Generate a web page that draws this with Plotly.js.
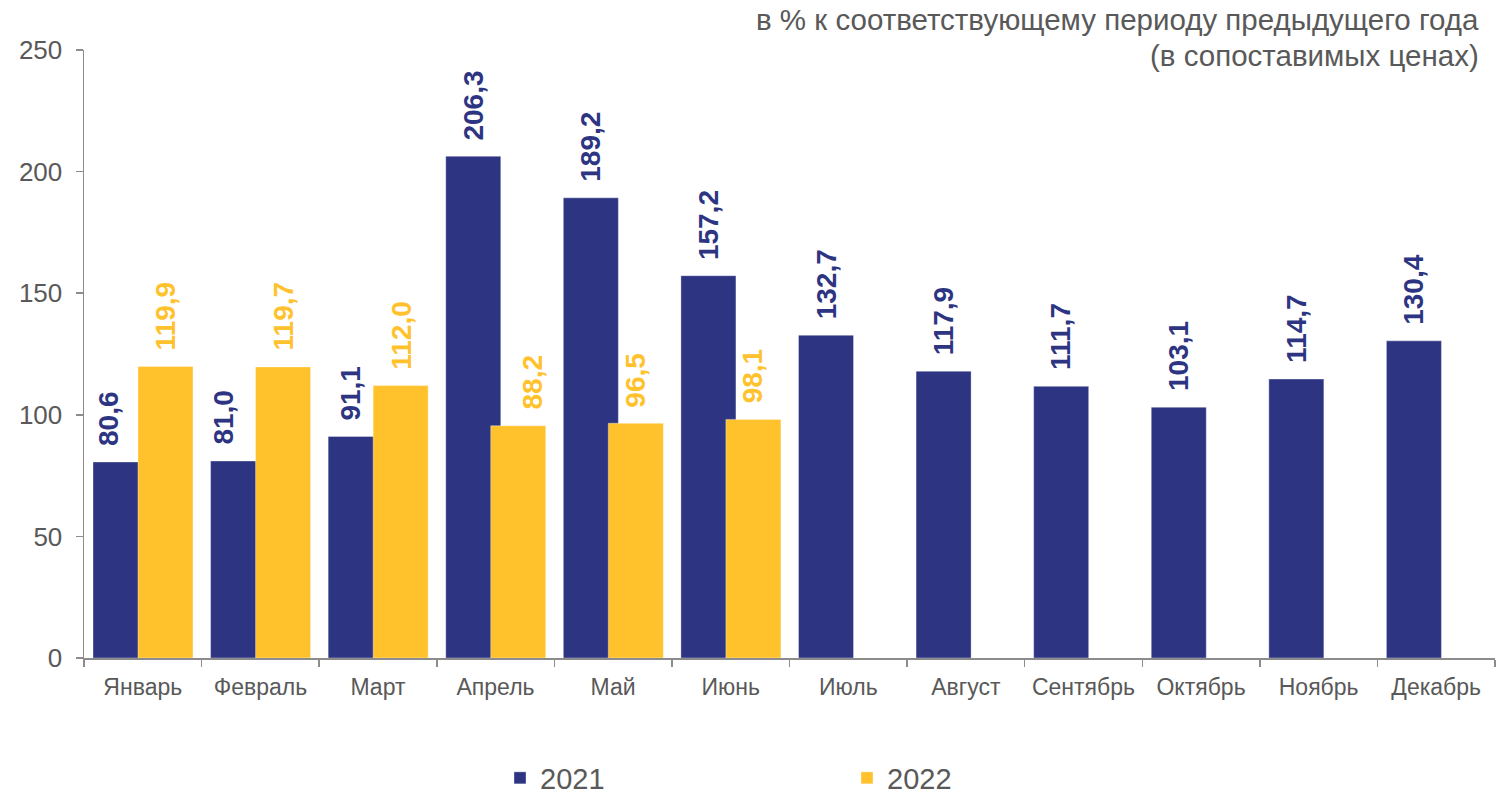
<!DOCTYPE html>
<html>
<head>
<meta charset="utf-8">
<script src="https://cdn.plot.ly/plotly-3.0.1.min.js"></script>
<style>
html,body{margin:0;padding:0;background:#fff;}
#chart{width:1511px;height:795px;}
</style>
</head>
<body>
<div id="chart"></div>
<script>
// ---- data ----
const months = ['Январь','Февраль','Март','Апрель','Май','Июнь','Июль','Август','Сентябрь','Октябрь','Ноябрь','Декабрь'];
const values2021 = [80.6, 81.0, 91.1, 206.3, 189.2, 157.2, 132.7, 117.9, 111.7, 103.1, 114.7, 130.4];
const values2022 = [119.9, 119.7, 112.0, 95.5, 96.5, 98.1];
const labels2021 = ['80,6','81,0','91,1','206,3','189,2','157,2','132,7','117,9','111,7','103,1','114,7','130,4'];
const labels2022 = ['119,9','119,7','112,0','88,2','96,5','98,1'];
const yTicks = [0, 50, 100, 150, 200, 250];
const seriesNames = ['2021', '2022'];
const titleLines = ['в % к соответствующему периоду предыдущего года', '(в сопоставимых ценах)'];

// ---- style ----
const NAVY = '#2D3582';
const YELLOW = '#FFC22D';
const GREY = '#595959';
const AXIS = '#8C8C8C';
const FONT = 'Liberation Sans, Arial, sans-serif';

const M = {l: 84, r: 16, t: 50, b: 137, autoexpand: false};
const plotW = 1511 - M.l - M.r;
const plotH = 795 - M.t - M.b;
const catW = plotW / months.length;

const barW = 0.468;
const off2021 = -0.4235;
const off2022 = -0.041;
// manual label nudges (px), as in the original
const nudge2021 = [-12, -15, -5, 0, 0, 0, 0, 0, 0, 0, 0, 0];
const nudge2022 = [0, 0, 0, 14, 0, 0];

const m2022 = months.slice(0, values2022.length);

const traces = [
  {
    type: 'bar', name: seriesNames[0], x: months, y: values2021,
    width: barW, offset: off2021,
    marker: {color: NAVY, line: {color: 'rgba(255,255,255,0.35)', width: 1}},
    hoverinfo: 'x+y'
  },
  {
    type: 'bar', name: seriesNames[1], x: m2022, y: values2022,
    width: barW, offset: off2022,
    marker: {color: YELLOW, line: {color: 'rgba(255,255,255,0.35)', width: 1}},
    hoverinfo: 'x+y'
  }
];

const c2021 = (off2021 + barW / 2) * catW;
const c2022 = (off2022 + barW / 2) * catW;

const annotations = [];
months.forEach((m, i) => {
  annotations.push({
    x: m, y: values2021[i], xref: 'x', yref: 'y',
    text: labels2021[i], showarrow: false, textangle: -90,
    xanchor: 'center', yanchor: 'bottom',
    xshift: c2021 + nudge2021[i], yshift: 14,
    font: {family: FONT, size: 28, color: NAVY, weight: 'bold'}
  });
});
m2022.forEach((m, i) => {
  annotations.push({
    x: m, y: values2022[i], xref: 'x', yref: 'y',
    text: labels2022[i], showarrow: false, textangle: -90,
    xanchor: 'center', yanchor: 'bottom',
    xshift: c2022 + nudge2022[i], yshift: 14,
    font: {family: FONT, size: 28, color: YELLOW, weight: 'bold'}
  });
});
// header text (top right)
titleLines.forEach((t, i) => {
  annotations.push({
    xref: 'paper', yref: 'paper',
    x: (1481 - M.l) / plotW, y: (M.t + plotH - (20 + 35 * i)) / plotH,
    xanchor: 'right', yanchor: 'middle', align: 'right',
    text: t, showarrow: false,
    font: {family: FONT, size: 29.5, color: GREY}
  });
});

const layout = {
  width: 1511, height: 795,
  margin: M,
  paper_bgcolor: '#fff', plot_bgcolor: '#fff',
  font: {family: FONT, color: GREY},
  barmode: 'overlay',
  showlegend: true,
  xaxis: {
    type: 'category',
    range: [-0.5, months.length - 0.5],
    showline: true, linecolor: AXIS, linewidth: 1.5,
    ticks: 'outside', tickson: 'boundaries', ticklen: 7, tickcolor: AXIS, tickwidth: 1.5,
    showgrid: false, zeroline: false,
    tickfont: {family: FONT, size: 23, color: GREY},
    ticklabelstandoff: 8,
    automargin: false,
    fixedrange: true
  },
  yaxis: {
    range: [0, 250],
    tickvals: yTicks, ticktext: yTicks.map(String),
    showline: true, linecolor: AXIS, linewidth: 1.5,
    ticks: 'outside', ticklen: 7, tickcolor: AXIS, tickwidth: 1.5,
    showgrid: false, zeroline: false,
    tickfont: {family: FONT, size: 26, color: GREY},
    ticklabelstandoff: 8,
    automargin: false,
    fixedrange: true
  },
  legend: {
    orientation: 'h',
    x: (500 - M.l) / plotW, xanchor: 'left',
    y: (M.t + plotH - 778) / plotH, yanchor: 'middle',
    entrywidth: 302,
    font: {family: FONT, size: 29, color: GREY},
    itemwidth: 30,
    traceorder: 'normal'
  },
  annotations: annotations
};

Plotly.newPlot('chart', traces, layout, {displayModeBar: false, staticPlot: true});
</script>
</body>
</html>
